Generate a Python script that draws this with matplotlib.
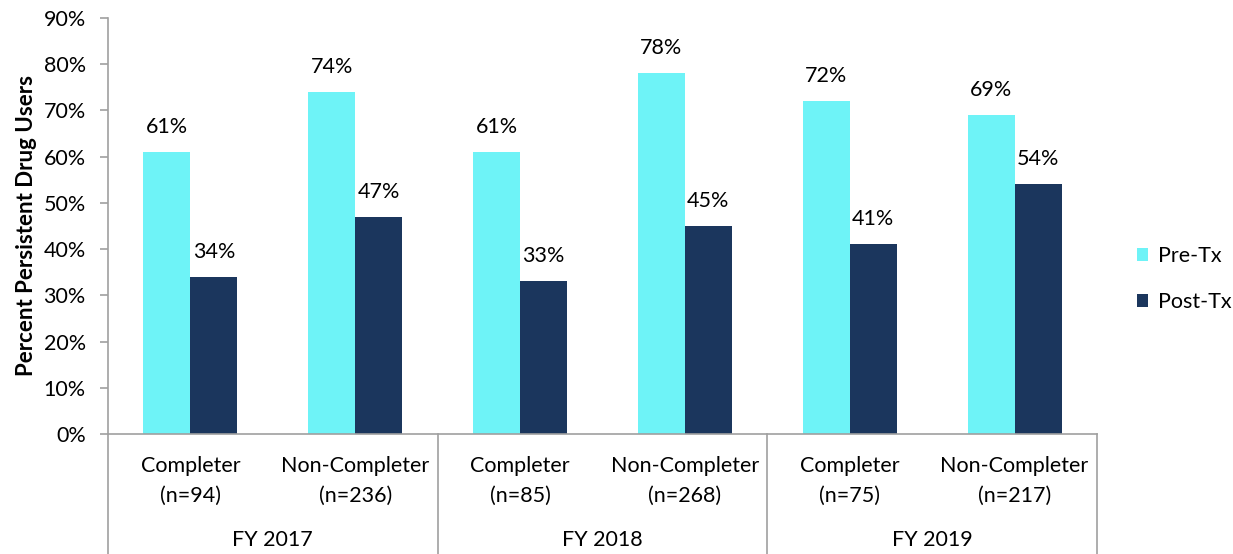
import matplotlib
matplotlib.use("Agg")
import matplotlib.pyplot as plt
import numpy as np

years = ["FY 2017", "FY 2018", "FY 2019"]
categories = ["Completer\n(n=94)", "Non-Completer\n(n=236)",
              "Completer\n(n=85)", "Non-Completer\n(n=268)",
              "Completer\n(n=75)", "Non-Completer\n(n=217)"]
pre_tx = [61, 74, 61, 78, 72, 69]
post_tx = [34, 47, 33, 45, 41, 54]
yticks = list(range(0, 91, 10))

plt.rcParams['font.family'] = ['Lato', 'DejaVu Sans']
FS = 15.5

fig = plt.figure(figsize=(12.33, 5.54), dpi=100)
ax = fig.add_axes([108/1233, 1-434/554, (1097-108)/1233, (434-18)/554])

cyan = "#6EF3F7"
navy = "#1B365D"
x = np.arange(len(categories))
w = 0.285
b1 = ax.bar(x - w/2, pre_tx, w, color=cyan, label="Pre-Tx")
b2 = ax.bar(x + w/2, post_tx, w, color=navy, label="Post-Tx")

for bars, vals in ((b1, pre_tx), (b2, post_tx)):
    for r, v in zip(bars, vals):
        ax.annotate(f"{v}%", (r.get_x() + r.get_width()/2, v), xytext=(0, 18),
                    textcoords="offset points", ha="center", va="center", fontsize=FS)

ax.set_xlim(-0.5, len(categories) - 0.5)
ax.set_ylim(0, 90)
ax.set_yticks(yticks)
ax.set_yticklabels([f"{t}%" for t in yticks], fontsize=FS)
ax.set_xticks([])
for s in ("top", "right"):
    ax.spines[s].set_visible(False)
for s in ("left", "bottom"):
    ax.spines[s].set_color("#A0A0A0")
    ax.spines[s].set_linewidth(1.2)
ax.tick_params(axis="y", length=6, color="#A0A0A0", width=1.2, pad=10)
ax.set_ylabel("Percent Persistent Drug Users", fontsize=16, fontweight="bold", labelpad=5)

trans = ax.get_xaxis_transform()
for i, c in enumerate(categories):
    ax.text(i, -0.112, c, transform=trans, ha="center", va="center", fontsize=FS,
            linespacing=1.6)
for j, yname in enumerate(years):
    ax.text(2*j + 0.5, -0.256, yname, transform=trans, ha="center", va="center", fontsize=FS)
for k in range(len(years) + 1):
    ax.plot([2*k - 0.5, 2*k - 0.5], [0, -0.32], transform=trans, color="#A0A0A0",
            lw=1.2, clip_on=False)

leg = fig.legend(handles=[b1, b2], loc="center left", bbox_to_anchor=(1137/1233, 1-279/554),
                 frameon=False, fontsize=FS, handlelength=0.52, handleheight=0.52,
                 labelspacing=1.2, handletextpad=0.45, borderpad=0, borderaxespad=0)

fig.savefig("out.png", dpi=100)
